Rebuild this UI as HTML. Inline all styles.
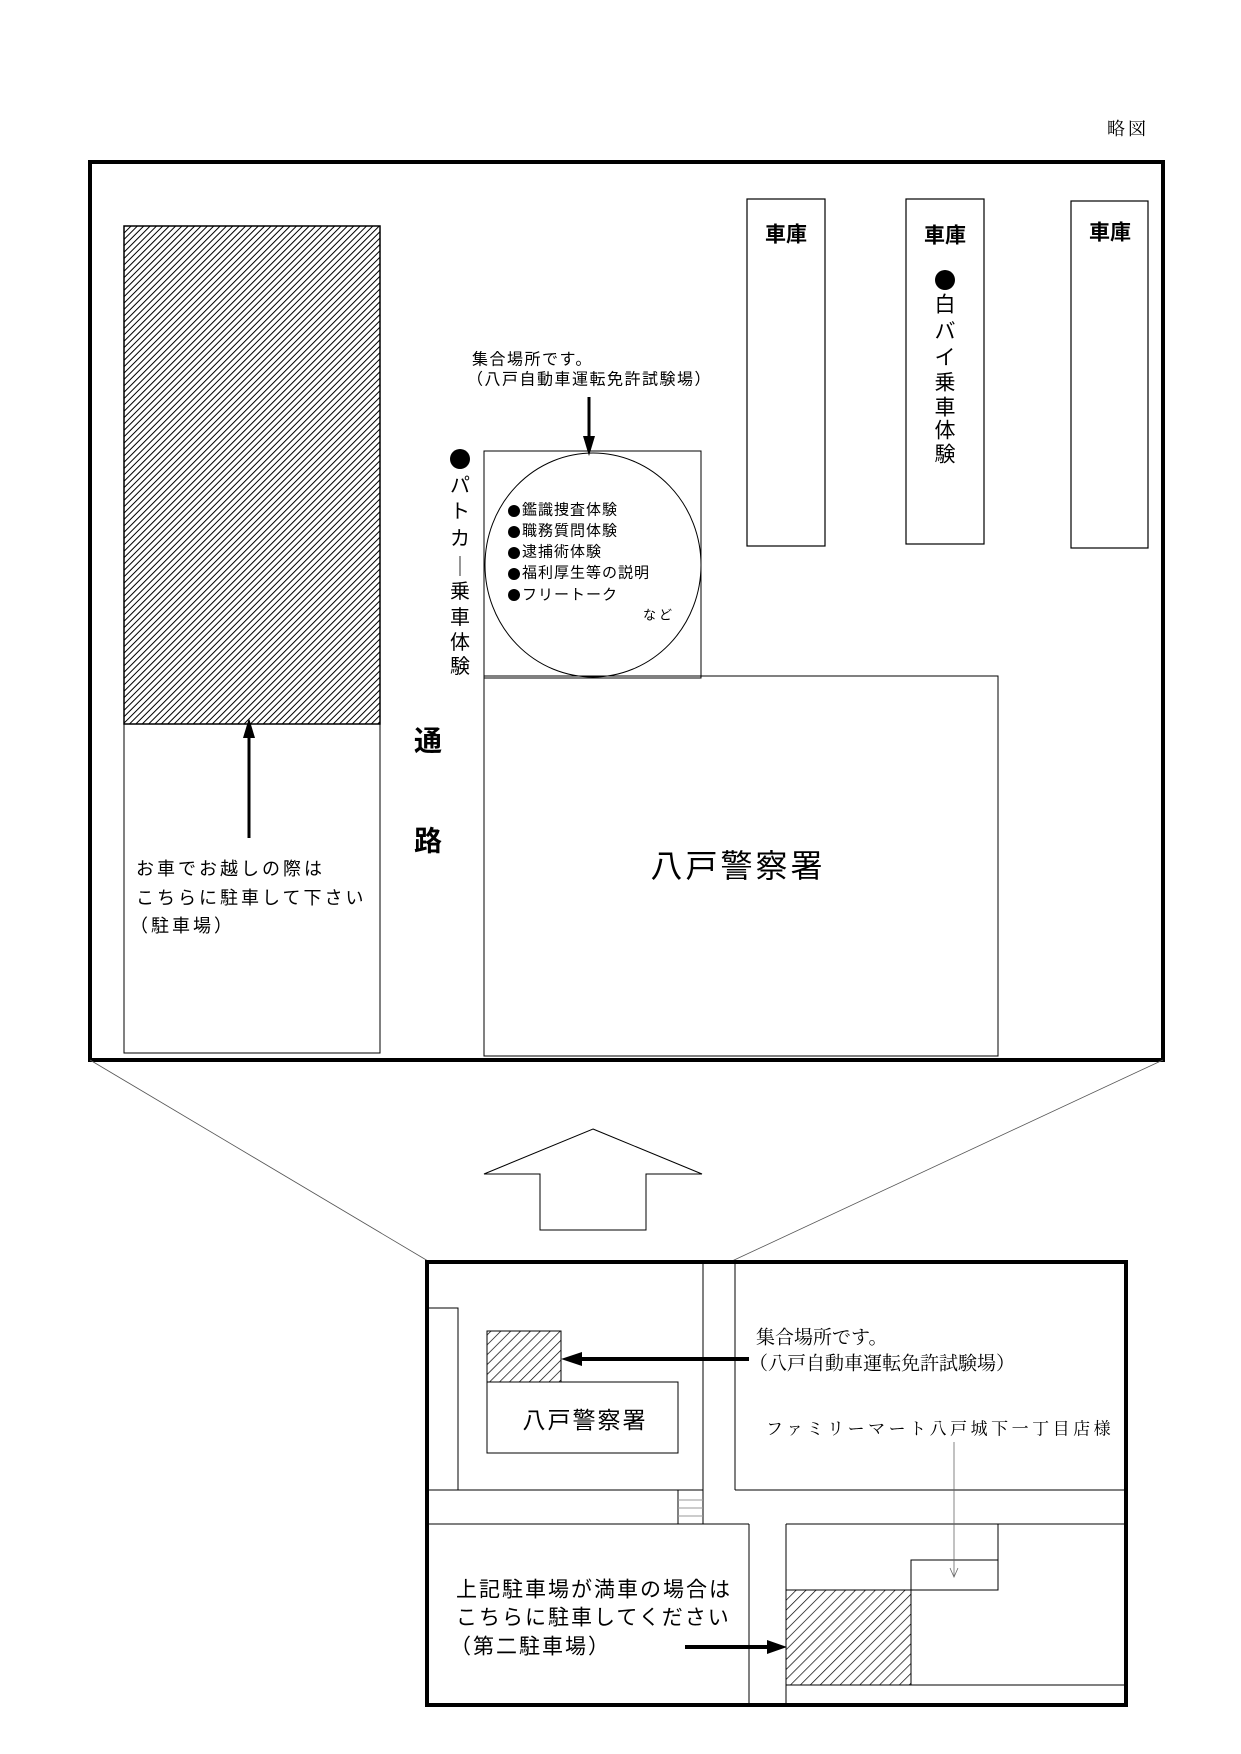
<!DOCTYPE html>
<html><head><meta charset="utf-8"><style>
html,body{margin:0;padding:0;background:#fff}
svg{display:block}
text{font-family:"Liberation Sans","Noto Sans CJK JP",sans-serif;fill:#000;dominant-baseline:central}
.m{font-family:"Liberation Serif","Noto Serif CJK JP",serif}
.c{font-family:"Noto Sans CJK JP",sans-serif}
</style></head><body>
<svg width="1241" height="1754" viewBox="0 0 1241 1754" xmlns="http://www.w3.org/2000/svg">
<defs>
<pattern id="h" width="4.5" height="4.5" patternUnits="userSpaceOnUse" patternTransform="rotate(45)">
<rect width="4.5" height="4.5" fill="#fff"/><line x1="0" y1="0" x2="0" y2="4.5" stroke="#000" stroke-width="2"/></pattern>
<pattern id="h2" width="7" height="7" patternUnits="userSpaceOnUse" patternTransform="rotate(45)">
<rect width="7" height="7" fill="#fff"/><line x1="0" y1="0" x2="0" y2="7" stroke="#000" stroke-width="1.4"/></pattern>
</defs>

<text x="1107" y="129" class="m" font-size="18" letter-spacing="3">略図</text>

<!-- main box -->
<rect x="90" y="162" width="1073" height="898" fill="none" stroke="#000" stroke-width="4"/>
<rect x="124" y="226" width="256" height="498" fill="url(#h)" stroke="#000" stroke-width="1.5"/>
<rect x="124" y="724" width="256" height="329" fill="none" stroke="#000" stroke-width="1"/>
<line x1="249" y1="838" x2="249" y2="735" stroke="#000" stroke-width="3"/>
<polygon points="249,718 243,738 255,738" fill="#000"/>
<text x="136" y="869" font-size="18" letter-spacing="3">お車でお越しの際は</text>
<text x="136" y="898" font-size="18" letter-spacing="3">こちらに駐車して下さい</text>
<text x="130" y="926" font-size="18" letter-spacing="3">（駐車場）</text>

<!-- patrol car vertical -->
<circle cx="460" cy="459" r="10" fill="#000"/>
<g font-size="20" text-anchor="middle">
<text x="460" y="486">パ</text><text x="460" y="512">ト</text><text x="460" y="539">カ</text><text x="460" y="565" class="c">｜</text><text x="460" y="592">乗</text><text x="460" y="618">車</text><text x="460" y="643">体</text><text x="460" y="667">験</text>
</g>
<text x="428" y="741" font-size="28" font-weight="bold" text-anchor="middle">通</text>
<text x="428" y="841" font-size="28" font-weight="bold" text-anchor="middle">路</text>

<!-- meeting -->
<text x="472" y="360" font-size="16" letter-spacing="1.5">集合場所です。</text>
<text x="467" y="380" font-size="16" letter-spacing="1.5">（八戸自動車運転免許試験場）</text>
<line x1="589" y1="397" x2="589" y2="440" stroke="#000" stroke-width="3"/>
<polygon points="589,456 583,436 595,436" fill="#000"/>
<rect x="484" y="451" width="217" height="227" fill="none" stroke="#000" stroke-width="1"/>
<ellipse cx="593" cy="565" rx="108" ry="112" fill="none" stroke="#000" stroke-width="1"/>
<g fill="#000">
<circle cx="514" cy="511" r="6"/><circle cx="514" cy="532" r="6"/><circle cx="514" cy="553" r="6"/><circle cx="514" cy="574" r="6"/><circle cx="514" cy="595" r="6"/>
</g>
<g font-size="15" letter-spacing="1">
<text x="522" y="510">鑑識捜査体験</text>
<text x="522" y="531">職務質問体験</text>
<text x="522" y="552">逮捕術体験</text>
<text x="522" y="573">福利厚生等の説明</text>
<text x="522" y="595">フリートーク</text>
<text x="643" y="615" font-size="13" letter-spacing="3">など</text>
</g>

<!-- police -->
<rect x="484" y="676" width="514" height="380" fill="none" stroke="#000" stroke-width="1"/>
<text x="738" y="866" font-size="32" text-anchor="middle" letter-spacing="3">八戸警察署</text>

<!-- garages -->
<rect x="747" y="199" width="78" height="347" fill="none" stroke="#000" stroke-width="1.2"/>
<rect x="906" y="199" width="78" height="345" fill="none" stroke="#000" stroke-width="1.2"/>
<rect x="1071" y="201" width="77" height="347" fill="none" stroke="#000" stroke-width="1.2"/>
<g font-size="21" font-weight="bold" text-anchor="middle">
<text x="786" y="235">車庫</text><text x="945" y="236">車庫</text><text x="1110" y="233">車庫</text>
</g>
<circle cx="945" cy="280" r="10" fill="#000"/>
<g font-size="21" text-anchor="middle">
<text x="945" y="305">白</text><text x="945" y="332">バ</text><text x="945" y="358">イ</text><text x="945" y="383">乗</text><text x="945" y="408">車</text><text x="945" y="431">体</text><text x="945" y="455">験</text>
</g>

<!-- zoom lines -->
<line x1="90" y1="1060" x2="428" y2="1261" stroke="#555" stroke-width="0.8"/>
<line x1="1163" y1="1060" x2="732" y2="1261" stroke="#555" stroke-width="0.8"/>
<polygon points="593,1129 702,1174 646,1174 646,1230 540,1230 540,1174 484,1174" fill="#fff" stroke="#000" stroke-width="1"/>

<!-- small map -->
<rect x="427" y="1262" width="699" height="443" fill="none" stroke="#000" stroke-width="4"/>
<g stroke="#000" stroke-width="1" fill="none">
<rect x="427" y="1308" width="31" height="182"/>
<line x1="427" y1="1490" x2="703" y2="1490"/>
<line x1="703" y1="1262" x2="703" y2="1524"/>
<line x1="735" y1="1262" x2="735" y2="1490"/>
<line x1="735" y1="1490" x2="1126" y2="1490"/>
<line x1="427" y1="1524" x2="749" y2="1524"/>
<line x1="749" y1="1524" x2="749" y2="1705"/>
<line x1="786" y1="1524" x2="1126" y2="1524"/>
<line x1="786" y1="1524" x2="786" y2="1705"/>
<line x1="786" y1="1685" x2="1126" y2="1685"/>
<rect x="911" y="1560" width="87" height="30"/>
<line x1="998" y1="1524" x2="998" y2="1560"/>
<line x1="678" y1="1490" x2="678" y2="1524"/>
</g>
<g stroke="#999" stroke-width="1">
<line x1="678" y1="1500" x2="703" y2="1500"/><line x1="678" y1="1508" x2="703" y2="1508"/><line x1="678" y1="1516" x2="703" y2="1516"/>
</g>
<rect x="487" y="1331" width="74" height="51" fill="url(#h2)" stroke="#000" stroke-width="1"/>
<rect x="487" y="1382" width="191" height="71" fill="none" stroke="#000" stroke-width="1"/>
<text x="585" y="1420" font-size="23" text-anchor="middle" letter-spacing="2">八戸警察署</text>
<rect x="786" y="1590" width="125" height="95" fill="url(#h2)" stroke="#000" stroke-width="1"/>

<text x="756" y="1338" class="m" font-size="19">集合場所です。</text>
<text x="749" y="1364" class="m" font-size="19">（八戸自動車運転免許試験場）</text>
<line x1="749" y1="1359" x2="575" y2="1359" stroke="#000" stroke-width="4"/>
<polygon points="561,1359 582,1352 582,1366" fill="#000"/>

<text x="766" y="1429" class="m" font-size="17" letter-spacing="3.5">ファミリーマート八戸城下一丁目店様</text>
<line x1="954" y1="1442" x2="954" y2="1577" stroke="#666" stroke-width="0.8"/>
<polyline points="950,1568 954,1577 958,1568" fill="none" stroke="#666" stroke-width="0.8"/>

<text x="456" y="1590" font-size="21" letter-spacing="2">上記駐車場が満車の場合は</text>
<text x="456" y="1618" font-size="21" letter-spacing="2">こちらに駐車してください</text>
<text x="450" y="1647" font-size="21" letter-spacing="2">（第二駐車場）</text>
<line x1="685" y1="1647" x2="770" y2="1647" stroke="#000" stroke-width="4"/>
<polygon points="787,1647 767,1640 767,1654" fill="#000"/>
</svg>
</body></html>
